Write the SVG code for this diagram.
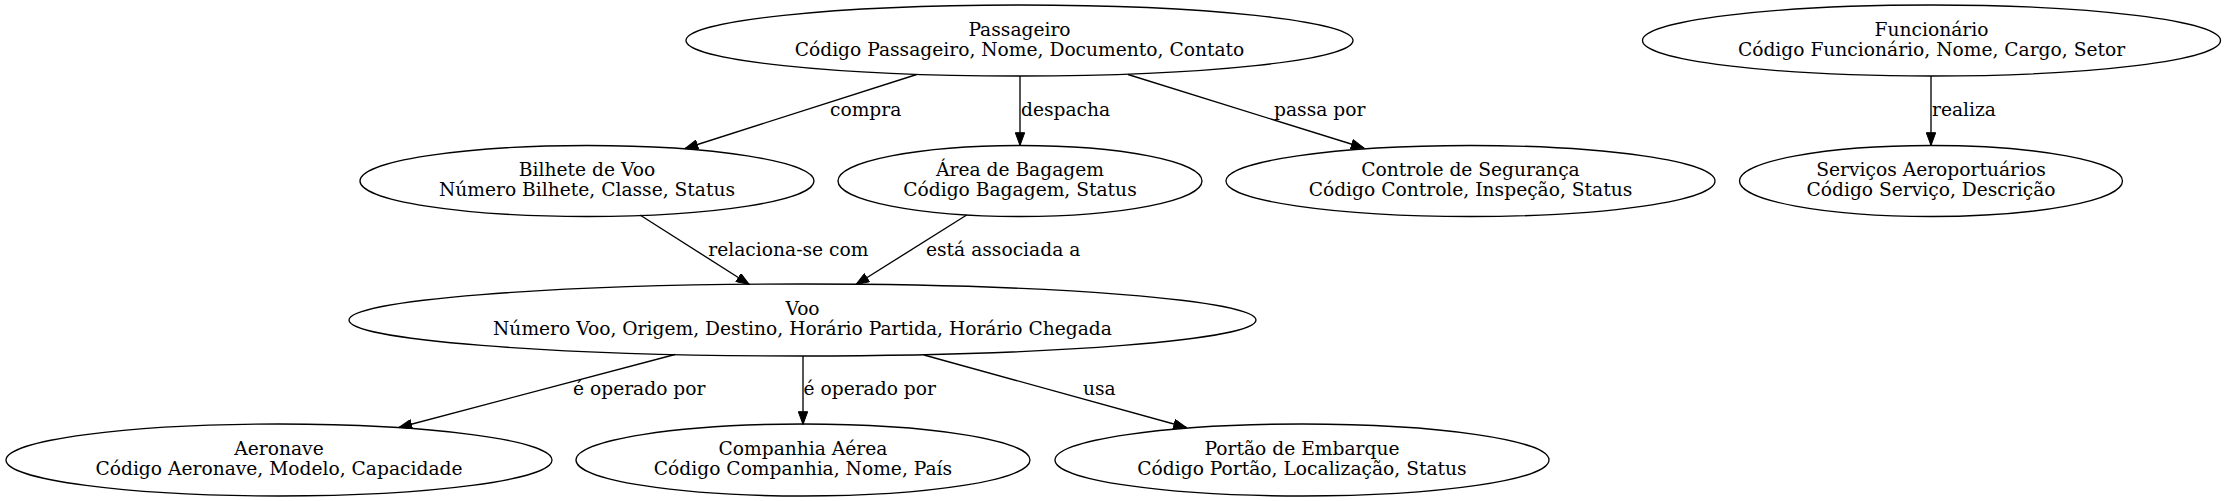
<svg xmlns="http://www.w3.org/2000/svg" width="2225" height="501" viewBox="0 0 2225 501">
<style>
.n ellipse{fill:none;stroke:#000;stroke-width:1.33}
.n text{font-family:"DejaVu Serif",serif;font-size:18.67px;text-anchor:middle;fill:#000}
.e line{stroke:#000;stroke-width:1.33;marker-end:url(#ah)}
.e text{font-family:"DejaVu Serif",serif;font-size:18.67px;fill:#000}
</style>
<defs>
<marker id="ah" markerUnits="userSpaceOnUse" viewBox="0 0 14 10" markerWidth="14" markerHeight="10" refX="13.3" refY="5" orient="auto">
<path d="M0.5,0.3 L13.3,5 L0.5,9.7 Z" fill="#000" stroke="#000" stroke-width="1"/>
</marker>
</defs>
<rect width="2225" height="501" fill="#fff"/>
<g id="connectors" class="e">
<line x1="916.7" y1="74.5" x2="685" y2="148.5"/>
<text x="830" y="115.7">compra</text>
<line x1="1020" y1="76" x2="1020" y2="145.5"/>
<text x="1021" y="115.7">despacha</text>
<line x1="1128" y1="74.5" x2="1364" y2="148"/>
<text x="1274" y="115.7">passa por</text>
<line x1="1931" y1="76" x2="1931" y2="145.5"/>
<text x="1932" y="115.7">realiza</text>
<line x1="640" y1="215" x2="749.3" y2="284.5"/>
<text x="708.3" y="255.7">relaciona-se com</text>
<line x1="966.7" y1="215" x2="856" y2="284.5"/>
<text x="926" y="255.7">está associada a</text>
<line x1="675" y1="354.5" x2="399" y2="427.5"/>
<text x="573" y="395">é operado por</text>
<line x1="803" y1="356" x2="803" y2="424.5"/>
<text x="803.5" y="395">é operado por</text>
<line x1="924" y1="355" x2="1186.5" y2="427.5"/>
<text x="1083" y="395">usa</text>
</g>
<g id="passageiro" class="n">
<ellipse cx="1019.5" cy="40.5" rx="333.5" ry="35.5"/>
<text x="1019.5" y="36">Passageiro</text>
<text x="1019.5" y="55.7">Código Passageiro, Nome, Documento, Contato</text>
</g>
<g id="funcionario" class="n">
<ellipse cx="1931.5" cy="40.5" rx="289" ry="35.5"/>
<text x="1931.5" y="36">Funcionário</text>
<text x="1931.5" y="55.7">Código Funcionário, Nome, Cargo, Setor</text>
</g>
<g id="bilhete" class="n">
<ellipse cx="587" cy="181" rx="227" ry="35.5"/>
<text x="587" y="176">Bilhete de Voo</text>
<text x="587" y="196">Número Bilhete, Classe, Status</text>
</g>
<g id="bagagem" class="n">
<ellipse cx="1020" cy="181" rx="182" ry="35.5"/>
<text x="1020" y="176">Área de Bagagem</text>
<text x="1020" y="196">Código Bagagem, Status</text>
</g>
<g id="seguranca" class="n">
<ellipse cx="1470.5" cy="181" rx="244.5" ry="35.5"/>
<text x="1470.5" y="176">Controle de Segurança</text>
<text x="1470.5" y="196">Código Controle, Inspeção, Status</text>
</g>
<g id="servicos" class="n">
<ellipse cx="1931" cy="181" rx="191.5" ry="35.5"/>
<text x="1931" y="176">Serviços Aeroportuários</text>
<text x="1931" y="196">Código Serviço, Descrição</text>
</g>
<g id="voo" class="n">
<ellipse cx="802.5" cy="320" rx="453.5" ry="36"/>
<text x="802.5" y="315">Voo</text>
<text x="802.5" y="335">Número Voo, Origem, Destino, Horário Partida, Horário Chegada</text>
</g>
<g id="aeronave" class="n">
<ellipse cx="279" cy="460" rx="273" ry="36"/>
<text x="279" y="455">Aeronave</text>
<text x="279" y="475">Código Aeronave, Modelo, Capacidade</text>
</g>
<g id="companhia" class="n">
<ellipse cx="803" cy="460" rx="227" ry="36"/>
<text x="803" y="455">Companhia Aérea</text>
<text x="803" y="475">Código Companhia, Nome, País</text>
</g>
<g id="portao" class="n">
<ellipse cx="1302" cy="460" rx="247" ry="36"/>
<text x="1302" y="455">Portão de Embarque</text>
<text x="1302" y="475">Código Portão, Localização, Status</text>
</g>
</svg>
